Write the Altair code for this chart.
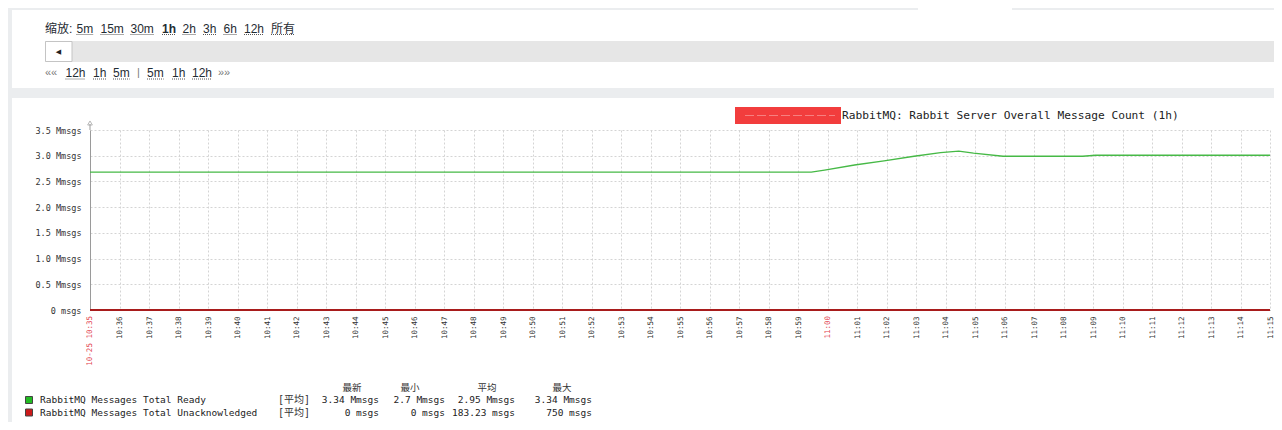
import altair as alt
import pandas as pd

# ---------------- data ----------------
DAY = "2019-10-25"
READY_TIMES = ["10:35:00", "10:59:27", "10:59:54", "11:00:55", "11:01:55", "11:02:56",
               "11:03:50", "11:04:27", "11:04:57", "11:05:57", "11:08:39", "11:09:05", "11:15:00"]
READY_VALUES = [2.68, 2.68, 2.72, 2.82, 2.90, 2.99, 3.06, 3.09, 3.05, 2.99, 2.99, 3.01, 3.01]  # Mmsgs
UNACK_TIMES = ["10:35:00", "11:15:00"]
UNACK_VALUES = [0.0, 0.0]  # Mmsgs (hundreds of msgs -> invisible)

SERIES = ["RabbitMQ Messages Total Ready", "RabbitMQ Messages Total Unacknowledged"]
LINE_COLORS = ["#46b946", "#a81c1c"]
SWATCH_COLORS = ["#22bb22", "#cc1a1a"]

Y_TICKS = [0, 0.5, 1.0, 1.5, 2.0, 2.5, 3.0, 3.5]
RED_TICK_TIMES = ["10:35:00", "11:00:00"]
RED_TICK_LABELS = ["10-25 10:35", "11:00"]
STAT_HEADERS = ["最新", "最小", "平均", "最大"]
STAT_READY = ["3.34 Mmsgs", "2.7 Mmsgs", "2.95 Mmsgs", "3.34 Mmsgs"]
STAT_UNACK = ["0 msgs", "0 msgs", "183.23 msgs", "750 msgs"]
FUNC_LABEL = "[平均]"

TITLE = "RabbitMQ: Rabbit Server Overall Message Count (1h)"
ZOOM_LABEL = "缩放:"
ZOOM_LINKS = ["5m", "15m", "30m", "1h", "2h", "3h", "6h", "12h", "所有"]
NAV_LINKS = ["««", "12h", "1h", "5m", "|", "5m", "1h", "12h", "»»"]

# ---------------- tables ----------------
ready_df = pd.DataFrame({"time": [f"{DAY}T{t}" for t in READY_TIMES], "value": READY_VALUES})
unack_df = pd.DataFrame({"time": [f"{DAY}T{t}" for t in UNACK_TIMES], "value": UNACK_VALUES})
red_df = pd.DataFrame({"time": [f"{DAY}T{t}" for t in RED_TICK_TIMES], "label": RED_TICK_LABELS})

# ---------------- layout (plot origin = page (90,130)) ----------------
W, H = 1180, 180
OX, OY = 90, 130
def px(x): return x - OX
def py(y): return y - OY

MONO = "DejaVu Sans Mono"
MIXED = "DejaVu Sans Mono, Noto Sans CJK SC"
UI = "Liberation Sans, Noto Sans CJK SC"
CJK = "Noto Sans CJK SC"
GRID = "#d4d4d4"
PANEL_GRAY = "#ebedef"

ONE = alt.Data(values=[{"k": 0}])

def rect(x, x2, y, y2, fill, stroke=None):
    kw = dict(fill=fill)
    if stroke:
        kw.update(stroke=stroke, strokeWidth=1)
    return alt.Chart(ONE).mark_rect(**kw).encode(
        x=alt.value(px(x)), x2=alt.value(px(x2)), y=alt.value(py(y)), y2=alt.value(py(y2)))

def text(s, x, y, **kw):
    return alt.Chart(ONE).mark_text(baseline="middle", **kw).encode(
        x=alt.value(px(x)), y=alt.value(py(y)), text=alt.value(s))

def hrule(x, x2, y, **kw):
    return alt.Chart(ONE).mark_rule(**kw).encode(
        x=alt.value(px(x)), x2=alt.value(px(x2)), y=alt.value(py(y)))

def est_width(s, size=12):
    w = 0
    for ch in s:
        if ord(ch) > 0x2E80:
            w += size
        elif ch in "mM":
            w += size * 0.83
        else:
            w += size * 0.556
    return w

layers = []
# gray page chrome
layers.append(rect(8, 12, 8, 430, PANEL_GRAY))
layers.append(rect(8, 1290, 8, 10, PANEL_GRAY))
layers.append(rect(918, 1012, 8, 10, "white"))
layers.append(rect(8, 1290, 88, 98, PANEL_GRAY))
# time slider bar
layers.append(rect(45, 1290, 41, 62, "#e6e6e6"))
layers.append(rect(45.5, 72, 41.5, 61.5, "white", stroke="#c4c4c4"))
layers.append(text("◀", 58.5, 51.5, align="center", font="DejaVu Sans", fontSize=7, color="#222"))

# zoom row
layers.append(text(ZOOM_LABEL, 45, 28.5, align="left", font=UI, fontSize=12, color="#1f2c33"))
zoom_x = [76.5, 100.5, 130.5, 162, 182.5, 203, 223.5, 244, 271]
for lab, x in zip(ZOOM_LINKS, zoom_x):
    layers.append(text(lab, x, 28.5, align="left", font=UI, fontSize=12, color="#1f2c33",
                       fontWeight="bold" if lab == "1h" else "normal"))
    layers.append(hrule(x, x + est_width(lab), 34.5, color="#555", strokeDash=[1, 1], strokeWidth=1))

# navigation row
nav_x = [45, 65.5, 93, 113, 137, 147, 172, 192, 218]
for lab, x in zip(NAV_LINKS, nav_x):
    plain = lab in ("««", "»»", "|")
    layers.append(text(lab, x, 72.5, align="left", font=UI, fontSize=12 if not plain else 11,
                       color="#1f2c33" if not plain else "#7a7a7a"))
    if not plain:
        layers.append(hrule(x, x + est_width(lab), 79, color="#555", strokeDash=[1, 1], strokeWidth=1))

# graph title with redaction box
layers.append(rect(735, 841, 107, 124, "#f23d3d"))
layers.append(hrule(745, 835, 115.5, color="#ffffff", opacity=0.35, strokeDash=[9, 3], strokeWidth=1))
layers.append(text(TITLE, 842, 115.5, align="left", font=MONO, fontSize=11.2, color="#222"))

# ---------------- the plot itself ----------------
t0 = alt.DateTime(year=2019, month=10, date=25, hours=10, minutes=35)
t1 = alt.DateTime(year=2019, month=10, date=25, hours=11, minutes=15)
x_scale = alt.Scale(domain=[t0, t1], nice=False)
y_scale = alt.Scale(domain=[0, 3.5], nice=False)

x_axis = alt.Axis(
    format="%H:%M",
    tickCount=40,
    labelAngle=270,
    labelExpr="minutes(datum.value) == 0 || minutes(datum.value) == 35 ? '' : datum.label",
    labelColor="#333333",
    labelFont=MONO, labelFontSize=7.5, labelPadding=6,
    labelOverlap=False, labelFlush=False,
    ticks=False, grid=True, gridColor=GRID, gridDash=[2, 2],
    domainColor="#9a9a9a", title=None,
)
y_axis = alt.Axis(
    values=Y_TICKS,
    tickCount=8,
    labelExpr="datum.value == 0 ? '0 msgs' : format(datum.value, '.1f') + ' Mmsgs'",
    labelFont=MONO, labelFontSize=8.5, labelColor="#333333", labelPadding=9,
    labelOverlap=False, labelFlush=False,
    ticks=False, grid=True, gridColor=GRID, gridDash=[2, 2],
    domainColor="#9a9a9a", title=None,
)

ready_line = alt.Chart(ready_df).mark_line(color=LINE_COLORS[0], strokeWidth=1.4).encode(
    x=alt.X("time:T", scale=x_scale, axis=x_axis),
    y=alt.Y("value:Q", scale=y_scale, axis=y_axis),
)
unack_line = alt.Chart(unack_df).mark_line(color=LINE_COLORS[1], strokeWidth=2).encode(
    x=alt.X("time:T", scale=x_scale, axis=x_axis),
    y=alt.Y("value:Q", scale=y_scale, axis=y_axis),
)
red_labels = alt.Chart(red_df).mark_text(
    angle=270, align="right", baseline="middle", font=MONO, fontSize=7.5, color="#e2414f"
).encode(
    x=alt.X("time:T", scale=x_scale, axis=x_axis),
    y=alt.value(H + 6),
    text="label:N",
)
layers += [ready_line, unack_line, red_labels]

# y-axis arrow
layers.append(alt.Chart(ONE).mark_rule(color="#9a9a9a").encode(
    x=alt.value(0), y=alt.value(-6), y2=alt.value(0)))
layers.append(alt.Chart(ONE).mark_point(shape="triangle-up", filled=False, size=22, color="#9a9a9a",
                                        strokeWidth=1).encode(x=alt.value(0), y=alt.value(-7)))

# ---------------- legend table ----------------
row_y = [400, 412.5]
stat_right = [379, 445, 515, 592]
header_center = [352, 410, 487, 562]
for h, cx in zip(STAT_HEADERS, header_center):
    layers.append(text(h, cx, 387.5, align="center", font=CJK, fontSize=9.5, color="#333"))
for i, (name, sw, stats) in enumerate(zip(SERIES, SWATCH_COLORS, [STAT_READY, STAT_UNACK])):
    y = row_y[i]
    layers.append(rect(25.5, 32.5, y - 3.5, y + 3.5, sw, stroke="#444"))
    layers.append(text(name, 40, y, align="left", font=MONO, fontSize=9.5, color="#222"))
    layers.append(text(FUNC_LABEL, 278, y, align="left", font=MIXED, fontSize=10, color="#333"))
    for s, rx in zip(stats, stat_right):
        layers.append(text(s, rx, y, align="right", font=MONO, fontSize=9.5, color="#222"))

chart = alt.layer(*layers).properties(
    width=W, height=H,
    padding={"left": 82, "top": 122, "right": 4, "bottom": 112},
    autosize=alt.AutoSizeParams(type="none"),
    background="white",
).configure_view(stroke=None)

chart.save("out.html", embed_options={"renderer": "svg", "actions": False})
